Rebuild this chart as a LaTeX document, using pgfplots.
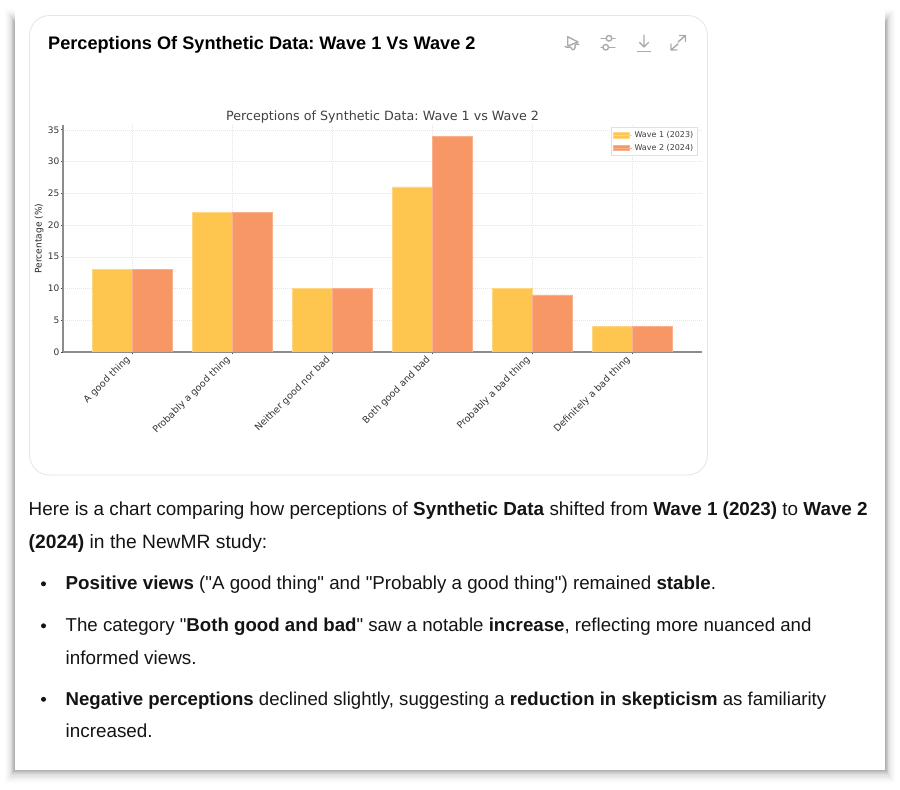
\documentclass[border=0pt]{standalone}
\usepackage{fontspec}
\setmainfont{DejaVu Sans}
\newfontfamily\bodyfont{Liberation Sans}
\usepackage{pgfplots}
\pgfplotsset{compat=1.18}
\definecolor{waveA}{HTML}{FFC64F}
\definecolor{waveB}{HTML}{F79765}
\definecolor{edgeA}{HTML}{FFD586}
\definecolor{edgeB}{HTML}{FAB08A}
\definecolor{icon}{HTML}{ABABAB}
\newcommand{\bodyline}[4][18.85]{\node[anchor=base west,inner sep=0pt,text=black!92] at (#2,#3) {\bodyfont\fontsize{#1}{20}\selectfont #4};}
\newcommand{\bul}[1]{\fill[black!92] (43.5,#1+6.2) circle (2.5);}
\begin{document}
\frenchspacing
\begin{tikzpicture}[x=1pt,y=1pt]
\fill[white] (0,0) rectangle (900,790);
% card shadow
\foreach \o/\a in {13/0.005,12/0.006,11/0.008,10/0.01,9/0.013,8/0.017,7/0.021,6/0.026,5/0.032,4/0.039,3/0.047,2/0.055,1/0.064}{
  \fill[black,opacity=\a] (15-\o*0.85,20-\o*1.1) rectangle (885+\o*0.85,768+\o*1.1);
}
\fill[white] (15,20) rectangle (885,782);
% chart card
\draw[black!10,fill=white,line width=0.8pt,rounded corners=20pt] (29.5,315) rectangle (707.5,774.5);
\node[anchor=base west,inner sep=0pt,text=black] at (48,740) {\bodyfont\bfseries\fontsize{18.15}{20}\selectfont Perceptions Of Synthetic Data: Wave 1 Vs Wave 2};
% icons
\begin{scope}[icon,line width=1.4pt,line cap=round,line join=round]
  \draw (567.7,753.3) -- (567.7,744) -- (578,748) -- cycle;
  \draw (565,743.5) .. controls (568,741) and (570,745) .. (571.5,741.5) .. controls (573,738) and (576,742) .. (575,744.5) .. controls (574.5,746) and (578,747) .. (579,745.5);
  \draw (601,751.7) -- (606.5,751.7) (612,751.7) -- (615,751.7);
  \draw (601,742.7) -- (603,742.7) (609,742.7) -- (615,742.7);
  \draw (609,751.7) circle (2.8);
  \draw (605.7,742.7) circle (2.8);
  \draw (644,755) -- (644,743) (639.5,747.5) -- (644,743) -- (648.5,747.5);
  \draw (637.5,738.5) -- (650.5,738.5);
  \draw (678,748) -- (685.5,754.5) (679.5,754.5) -- (685.5,754.5) -- (685.5,748.5);
  \draw (678,746) -- (671,740) (671,746) -- (671,740) -- (677,740);
\end{scope}
\begin{axis}[
  at={(63pt,438pt)},anchor=south west,
  scale only axis,width=639pt,height=226.7pt,
  xmin=-0.69,xmax=5.70,ymin=0,ymax=35.7,
  ybar=0pt,bar width=40pt,
  axis lines=left,axis line style={black!45,line width=1.1pt,-},
  xtick={0,1,2,3,4,5},
  xticklabels={A good thing,Probably a good thing,Neither good nor bad,Both good and bad,Probably a bad thing,Definitely a bad thing},
  ytick={0,5,10,15,20,25,30,35},
  x tick label style={rotate=45,anchor=north east,inner sep=1pt,font=\fontsize{9.5}{10}\selectfont,text=black!80,xshift=-4pt,yshift=5.5pt},
  y tick label style={font=\fontsize{9}{10}\selectfont,text=black!80,inner sep=1pt},
  /pgf/number format/assume math mode=true,
  tick style={black!70,line width=0.5pt},
  tick align=outside,major tick length=2.5pt,
  ymajorgrids,xmajorgrids,
  grid style={black!10,line width=0.4pt,dash pattern=on 1pt off 1pt},
  ylabel={Percentage (\%)},
  ylabel style={font=\fontsize{9.1}{10}\selectfont,text=black!85,at={(axis description cs:0,0.5)},anchor=south,yshift=16pt},
  title={Perceptions of Synthetic Data: Wave 1 vs Wave 2},
  title style={font=\fontsize{12.7}{14}\selectfont,text=black!75,at={(axis description cs:0.5,1)},anchor=south,yshift=-7pt},
  legend style={at={(axis cs:5.655,35.4)},anchor=north east,font=\fontsize{8}{9}\selectfont,text=black!75,draw=black!12,fill=white,line width=0.5pt,inner xsep=2pt,inner ysep=2pt,row sep=1pt,cells={anchor=west}},
  legend image code/.code={\fill[#1] (0pt,-2.9pt) rectangle (16pt,2.9pt);\path (0pt,0pt) -- (19pt,0pt);},
]
\addplot[fill=waveA,draw=edgeA,line width=0.5pt] coordinates {(0,13) (1,22) (2,10) (3,26) (4,10) (5,4)};
\addplot[fill=waveB,draw=edgeB,line width=0.5pt] coordinates {(0,13) (1,22) (2,10) (3,34) (4,9) (5,4)};
\legend{Wave 1 (2023),Wave 2 (2024)}
\end{axis}
% body text
\bodyline{28.5}{274}{Here is a chart comparing how perceptions of \textbf{Synthetic Data} shifted from \textbf{Wave 1 (2023)} to \textbf{Wave 2}}
\bodyline[19.25]{28.5}{241}{\textbf{(2024)} in the NewMR study:}
\bul{200}
\bodyline[18.76]{65.5}{200}{\textbf{Positive views} ("A good thing" and "Probably a good thing") remained \textbf{stable}.}
\bul{158}
\bodyline[18.67]{65.5}{158}{The category "\textbf{Both good and bad}" saw a notable \textbf{increase}, reflecting more nuanced and}
\bodyline{65.5}{125.5}{informed views.}
\bul{84.5}
\bodyline[18.6]{65.5}{84.5}{\textbf{Negative perceptions} declined slightly, suggesting a \textbf{reduction in skepticism} as familiarity}
\bodyline{65.5}{52}{increased.}
\path (0,0) rectangle (900,790);
\end{tikzpicture}
\end{document}
